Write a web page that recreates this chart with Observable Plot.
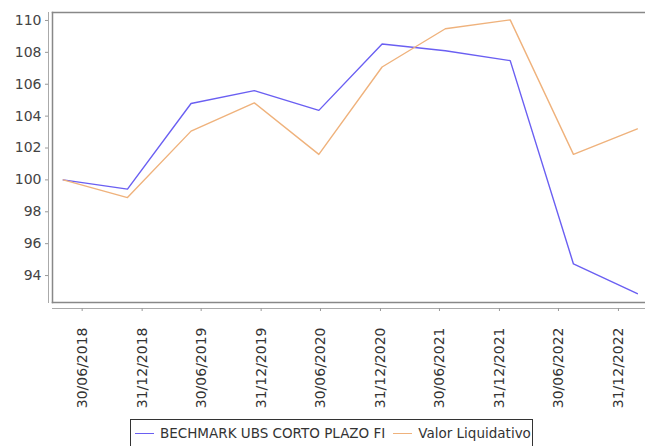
<!DOCTYPE html>
<html>
<head>
<meta charset="utf-8">
<script src="https://cdn.jsdelivr.net/npm/d3@7"></script>
<script src="https://cdn.jsdelivr.net/npm/@observablehq/plot@0.6"></script>
<style>
  html, body { margin: 0; padding: 0; background: #fff; }
  #wrap { position: relative; width: 645px; height: 446px; overflow: hidden; font-family: "DejaVu Sans", sans-serif; }
  #legend { position: absolute; left: 130px; top: 419px; width: 403px; height: 30px; border: 1px solid #333; box-sizing: border-box; background: #fff; font-size: 13.5px; color: #333; display: flex; align-items: center; padding-left: 4px; padding-bottom: 3px; white-space: nowrap; }
  .sw { display: inline-block; width: 19px; height: 0; border-top: 1.5px solid; margin-right: 6px; vertical-align: middle; }
  .item { margin-right: 8px; }
</style>
</head>
<body>
<div id="wrap"><div id="chart"></div><div id="legend"></div></div>
<script>
const dates = ["2018-05-03","2018-11-16","2019-05-30","2019-12-10","2020-06-25","2021-01-05","2021-07-18","2022-02-02","2022-08-15","2023-02-27"];
const benchmark = [100.0, 99.42, 104.79, 105.6, 104.36, 108.52, 108.1, 107.48, 94.73, 92.86];
const valor = [100.0, 98.89, 103.06, 104.83, 101.6, 107.08, 109.48, 110.04, 101.6, 103.2];
const seriesNames = ["BECHMARK UBS CORTO PLAZO FI", "Valor Liquidativo"];
const seriesColors = ["#6a5ff2", "#efb27c"];
const tickDates = ["2018-06-30","2018-12-31","2019-06-30","2019-12-31","2020-06-30","2020-12-31","2021-06-30","2021-12-31","2022-06-30","2022-12-31"];
const tickLabels = ["30/06/2018","31/12/2018","30/06/2019","31/12/2019","30/06/2020","31/12/2020","30/06/2021","31/12/2021","30/06/2022","31/12/2022"];
const yTicks = [94, 96, 98, 100, 102, 104, 106, 108, 110];
const xDomain = ["2018-03-31", "2023-03-24"];
const yDomain = [92.31, 110.5];

const parse = d3.utcParse("%Y-%m-%d");
const rows = [];
dates.forEach((d, i) => {
  rows.push({date: parse(d), value: benchmark[i], series: seriesNames[0]});
  rows.push({date: parse(d), value: valor[i], series: seriesNames[1]});
});
const tickD = tickDates.map(parse);
const labelOf = new Map(tickD.map((d, i) => [+d, tickLabels[i]]));

const chart = Plot.plot({
  width: 645,
  height: 418,
  marginLeft: 52,
  marginRight: 0,
  marginTop: 12,
  marginBottom: 116,
  style: {fontFamily: "DejaVu Sans, sans-serif", fontSize: "14px", color: "#444", background: "#fff"},
  x: {type: "utc", domain: xDomain.map(parse)},
  y: {domain: yDomain},
  color: {domain: seriesNames, range: seriesColors},
  marks: [
    Plot.frame({anchor: "top", stroke: "#888", strokeWidth: 1.5}),
    Plot.frame({anchor: "bottom", stroke: "#888", strokeWidth: 1.5}),
    Plot.frame({anchor: "left", stroke: "#888", strokeWidth: 1.5}),
    Plot.frame({anchor: "left", dx: -4, stroke: "#aaa"}),
    Plot.frame({anchor: "bottom", dy: 6, stroke: "#aaa"}),
    Plot.axisY({ticks: yTicks, tickSize: 3, dx: -4, tickPadding: 4, stroke: "#999", fill: "#444", label: null}),
    Plot.axisX({ticks: tickD, tickFormat: d => labelOf.get(+d), tickSize: 3, dy: 6, tickRotate: -90, tickPadding: 16, stroke: "#999", fill: "#333", label: null}),
    Plot.line(rows, {x: "date", y: "value", z: "series", stroke: "series", strokeWidth: 1.4})
  ]
});
document.getElementById("chart").appendChild(chart);

const legend = document.getElementById("legend");
seriesNames.forEach((n, i) => {
  const s = document.createElement("span");
  s.className = "item";
  s.innerHTML = `<span class="sw" style="border-color:${seriesColors[i]}"></span>${n}`;
  legend.appendChild(s);
});
</script>
</body>
</html>
